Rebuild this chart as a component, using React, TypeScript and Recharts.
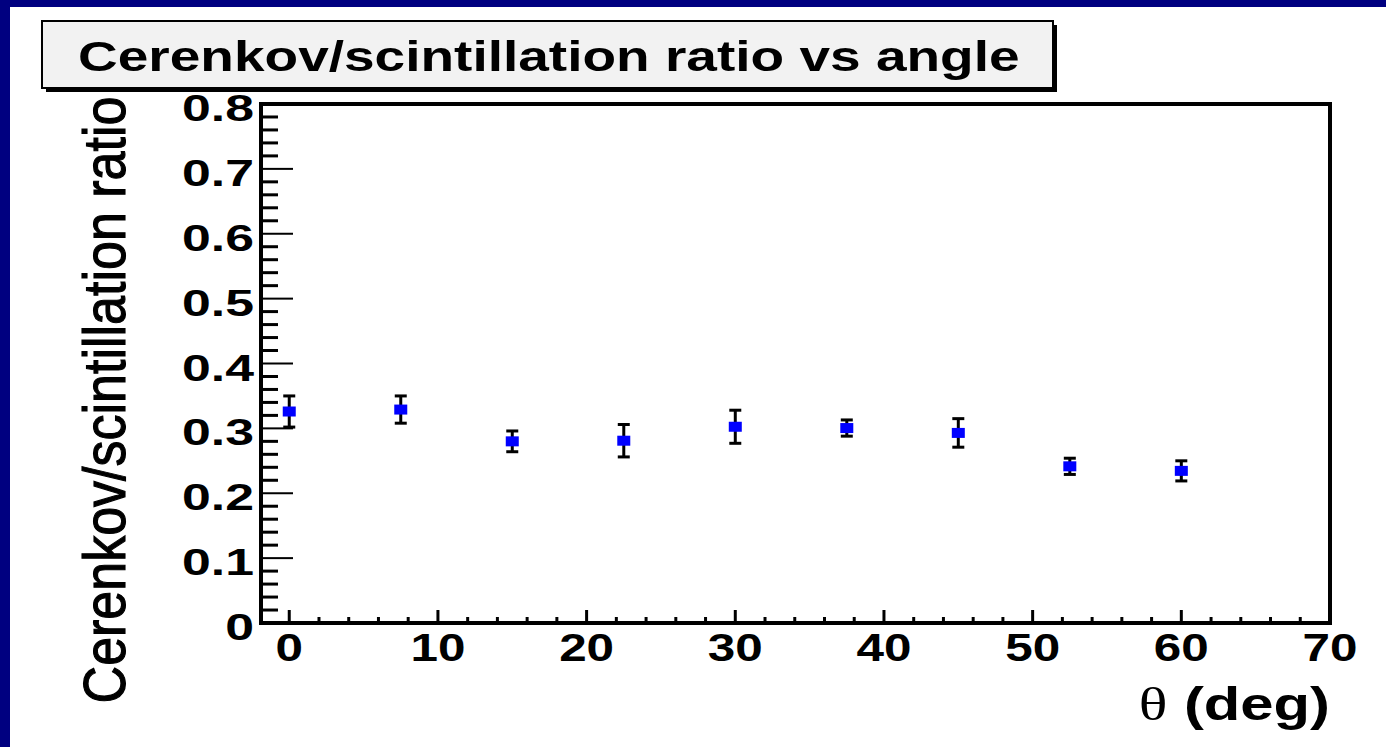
import React from "react";
import { ScatterChart, Scatter, XAxis, YAxis, ErrorBar, ReferenceArea } from "recharts";

// Cerenkov/scintillation light ratio measured at each beam angle (ROOT-style plot).

const angles = [0, 7.5, 15, 22.5, 30, 37.5, 45, 52.5, 60];
const ratios = [0.326, 0.329, 0.28, 0.281, 0.3025, 0.3005, 0.293, 0.2415, 0.2345];
const ratioErrors = [0.024, 0.021, 0.016, 0.025, 0.0255, 0.0125, 0.022, 0.0125, 0.0155];

const xMajorTicks = [0, 10, 20, 30, 40, 50, 60, 70];
const yMajorTicks = [0, 0.1, 0.2, 0.3, 0.4, 0.5, 0.6, 0.7, 0.8];
const xMinorStep = 2;
const yMinorStep = 0.02;

const xDomain: [number, number] = [-1.9, 70];
const yDomain: [number, number] = [0, 0.8];

const TITLE = "Cerenkov/scintillation ratio vs angle";
const Y_TITLE = "Cerenkov/scintillation ratio";
const X_TITLE = "(deg)";

const SANS = '"Liberation Sans", Arial, Helvetica, sans-serif';
const SERIF = '"Liberation Serif", "Times New Roman", serif';
const NAVY = "#000080";
// the source slide is stretched horizontally, so every glyph is too
const STRETCH = 1.3;

const points = angles.map((angle, i) => ({ angle, ratio: ratios[i], err: ratioErrors[i] }));

function stepTicks(lo: number, hi: number, step: number) {
  const out: number[] = [];
  const n = Math.round((hi - lo) / step);
  for (let i = 0; i <= n; i++) out.push(Math.round((lo + i * step) * 1000) / 1000);
  return out;
}

const xTicks = stepTicks(0, 70, xMinorStep);
const yTicks = stepTicks(0, 0.8, yMinorStep);

const isMajor = (list: number[], v: number) => list.some((t) => Math.abs(t - v) < 1e-6);

function XTick(props: any) {
  const { x, y, payload } = props;
  const v: number = payload.value;
  const major = isMajor(xMajorTicks, v);
  return (
    <g>
      <line x1={x} y1={y} x2={x} y2={y - (major ? 13 : 6)} stroke="#000" strokeWidth={3} />
      {major && (
        <text
          transform={`translate(${x},${y + 38}) scale(${STRETCH},1)`}
          textAnchor="middle"
          fontFamily={SANS}
          fontWeight="bold"
          fontSize={38}
          fill="#000"
        >
          {String(v)}
        </text>
      )}
    </g>
  );
}

function YTick(props: any) {
  const { x, y, payload } = props;
  const v: number = payload.value;
  const major = isMajor(yMajorTicks, v);
  return (
    <g>
      <line x1={x} y1={y} x2={x + (major ? 32 : 17)} y2={y} stroke="#000" strokeWidth={major ? 2 : 3} />
      {major && (
        <text
          transform={`translate(${x - 7},${y + 17}) scale(1.4,1)`}
          textAnchor="end"
          fontFamily={SANS}
          fontWeight="bold"
          fontSize={37}
          fill="#000"
        >
          {v === 0 ? "0" : v.toFixed(1)}
        </text>
      )}
    </g>
  );
}

function Marker(props: any) {
  const { cx, cy } = props;
  return <rect x={cx - 6.5} y={cy - 5} width={13} height={10} fill="#0000ff" />;
}

export default function App() {
  return (
    <div style={{ position: "absolute", left: 0, top: 0, width: 1386, height: 747, background: "#fff", overflow: "hidden" }}>
      <div style={{ position: "absolute", left: 0, top: 0, width: 1386, height: 7, background: NAVY }} />
      <div style={{ position: "absolute", left: 0, top: 0, width: 10, height: 747, background: NAVY }} />

      <div style={{ position: "absolute", left: 0, top: 0 }}>
        <ScatterChart width={1386} height={747} margin={{ top: 104, right: 56, bottom: 64, left: 201 }}>
          <XAxis
            type="number"
            dataKey="angle"
            domain={xDomain}
            allowDataOverflow
            ticks={xTicks}
            interval={0}
            tickSize={0}
            tickMargin={0}
            axisLine={false}
            tickLine={false}
            tick={XTick}
            height={60}
          />
          <YAxis
            type="number"
            dataKey="ratio"
            domain={yDomain}
            allowDataOverflow
            ticks={yTicks}
            interval={0}
            tickSize={0}
            tickMargin={0}
            axisLine={false}
            tickLine={false}
            tick={YTick}
            width={60}
          />
          <ReferenceArea
            x1={xDomain[0]}
            x2={xDomain[1]}
            y1={yDomain[0]}
            y2={yDomain[1]}
            fill="none"
            fillOpacity={0}
            stroke="#000"
            strokeWidth={4}
            strokeOpacity={1}
          />
          <Scatter data={points} isAnimationActive={false} shape={Marker}>
            <ErrorBar dataKey="err" direction="y" width={6} stroke="#000" strokeWidth={3} isAnimationActive={false} />
          </Scatter>
        </ScatterChart>
      </div>

      <svg width={1386} height={747} style={{ position: "absolute", left: 0, top: 0, pointerEvents: "none" }}>
        {/* title pave with drop shadow */}
        <rect x={46} y={25} width={1011} height={67} fill="#000" />
        <rect x={42} y={21} width={1011} height={67} fill="#f2f2f2" stroke="#000" strokeWidth={2} />
        <text
          transform="translate(78,71) scale(1.31,1)"
          fontFamily={SANS}
          fontWeight="bold"
          fontSize={42}
          fill="#000"
        >
          {TITLE}
        </text>

        {/* medium weight: regular face with a thin outline */}
        <text
          transform="translate(125,400) scale(1.13,1) rotate(-90)"
          textAnchor="middle"
          fontFamily={SANS}
          fontSize={52}
          fill="#000"
          stroke="#000"
          strokeWidth={1}
        >
          {Y_TITLE}
        </text>

        <text
          transform={`translate(1330,720) scale(${STRETCH},1)`}
          textAnchor="end"
          fontFamily={SANS}
          fontWeight="bold"
          fontSize={46}
          fill="#000"
        >
          <tspan fontFamily={SERIF} fontWeight="normal">θ</tspan>
          <tspan> {X_TITLE}</tspan>
        </text>
      </svg>
    </div>
  );
}
